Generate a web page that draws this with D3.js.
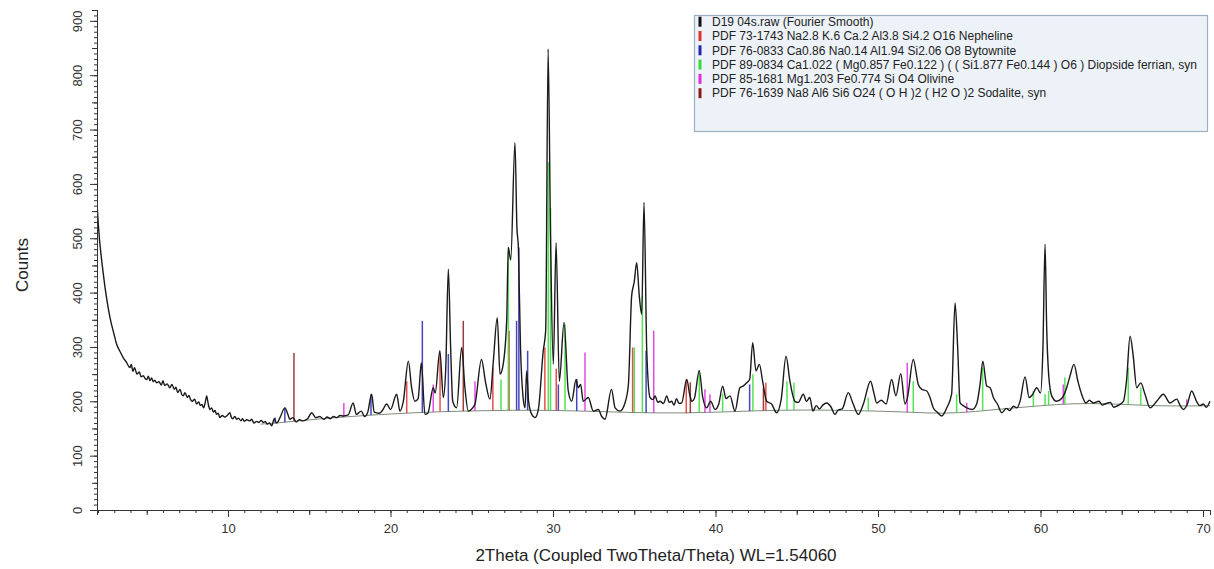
<!DOCTYPE html>
<html>
<head>
<meta charset="utf-8">
<script src="https://cdn.jsdelivr.net/npm/d3@7"></script>
<style>
  body { margin: 0; background: #fff; }
  svg { font-family: Arial, "Liberation Sans", sans-serif; }
</style>
</head>
<body>
<svg id="xrd"></svg>
<script>
// measured scan, [2theta, counts]
const scan = [
  [1.95,560],[2.02,526],[2.33,434],[2.74,354],[3.0,322],[3.15,305],[3.35,292],[3.56,280],[3.75,272],[3.97,262],
  [4.05,268],[4.15,255],[4.25,262],[4.4,250],[4.55,254],[4.65,245],[4.79,247],[4.9,242],[5.0,240],[5.1,246],
  [5.2,238],[5.3,243],[5.4,236],[5.5,239],[5.61,234],[5.75,236],[5.9,230],[6.0,238],[6.1,229],[6.25,232],
  [6.43,225],[6.55,231],[6.7,222],[6.8,226],[6.9,216],[7.05,222],[7.15,213],[7.25,210],[7.35,216],[7.5,207],
  [7.6,211],[7.7,203],[7.8,200],[7.95,204],[8.07,195],[8.2,199],[8.3,192],[8.4,194],[8.5,188],[8.6,198],
  [8.69,210],[8.78,196],[8.89,185],[9.0,188],[9.1,180],[9.2,183],[9.3,176],[9.4,178],[9.5,170],[9.65,174],
  [9.8,171],[9.95,174],[10.12,179],[10.2,171],[10.3,168],[10.42,172],[10.54,167],[10.65,169],[10.8,164],[10.9,168],
  [11.0,163],[11.15,166],[11.35,164],[11.45,167],[11.6,160],[11.75,163],[11.9,161],[12.05,165],[12.17,161],[12.3,163],
  [12.4,158],[12.55,160],[12.69,155],[12.85,168],[13.0,160],[13.2,170],[13.5,188],[13.7,175],[13.8,167],[14.0,170],
  [14.2,162],[14.4,166],[14.6,164],[14.9,168],[15.15,179],[15.4,170],[15.65,172],[15.9,167],[16.1,171],[16.3,168],
  [16.5,172],[16.7,170],[16.9,174],[17.1,173],[17.4,175],[17.7,197],[17.9,176],[18.2,182],[18.4,172],[18.6,180],
  [18.84,213],[19.0,180],[19.3,178],[19.5,183],[19.77,195],[20.0,185],[20.38,213],[20.58,182],[20.79,200],[21.1,274],
  [21.3,225],[21.5,200],[21.7,205],[21.9,271],[22.12,176],[22.3,178],[22.63,225],[22.75,215],[23.04,293],[23.25,207],
  [23.4,260],[23.56,443],[23.7,300],[23.83,200],[24.07,188],[24.38,299],[24.58,225],[24.79,182],[25.0,186],[25.2,195],
  [25.6,277],[25.85,235],[26.12,204],[26.33,274],[26.57,354],[26.74,250],[26.9,262],[27.15,348],[27.25,483],[27.4,460],
  [27.66,676],[27.78,520],[27.87,483],[28.0,300],[28.15,210],[28.28,188],[28.38,256],[28.5,200],[28.69,176],[28.9,170],
  [29.1,185],[29.4,293],[29.55,330],[29.7,848],[29.85,500],[30.02,268],[30.19,492],[30.39,237],[30.68,345],[30.94,219],
  [31.15,200],[31.42,240],[31.55,225],[31.7,231],[31.86,200],[32.17,207],[32.48,182],[32.79,185],[33.0,172],[33.2,167],
  [33.6,222],[33.82,188],[34.12,182],[34.43,197],[34.64,231],[34.84,394],[35.0,420],[35.15,455],[35.31,394],[35.46,360],
  [35.6,566],[35.77,293],[35.97,207],[36.15,203],[36.28,210],[36.45,198],[36.58,200],[36.8,196],[37.0,210],[37.15,198],
  [37.3,200],[37.45,193],[37.6,205],[37.75,196],[37.92,197],[38.23,240],[38.43,210],[38.55,200],[38.7,205],[39.0,257],
  [39.2,210],[39.46,188],[39.7,200],[39.97,185],[40.2,195],[40.44,228],[40.65,205],[40.89,210],[41.2,182],[41.5,225],
  [41.7,228],[41.92,234],[42.1,240],[42.29,308],[42.49,256],[42.7,268],[42.9,237],[43.15,200],[43.45,195],[43.76,179],
  [44.05,205],[44.34,283],[44.58,237],[44.89,200],[45.1,198],[45.4,213],[45.6,200],[45.8,207],[46.0,182],[46.2,192],
  [46.4,186],[46.6,193],[46.84,197],[47.1,190],[47.35,176],[47.55,184],[47.8,186],[48.17,216],[48.45,197],[48.79,176],
  [49.1,195],[49.54,237],[49.75,215],[49.92,197],[50.2,202],[50.5,195],[50.84,240],[51.1,210],[51.4,251],[51.66,195],
  [51.8,205],[52.17,277],[52.48,231],[52.7,222],[53.0,219],[53.2,207],[53.4,188],[53.65,180],[53.92,173],[54.23,188],
  [54.53,213],[54.74,381],[54.9,300],[55.05,197],[55.25,192],[55.47,188],[55.8,185],[56.07,195],[56.28,231],[56.45,274],
  [56.69,228],[56.9,225],[57.1,207],[57.35,195],[57.61,179],[57.9,187],[58.1,183],[58.33,191],[58.55,188],[58.74,200],
  [59.05,245],[59.3,207],[59.5,212],[59.77,225],[60.0,215],[60.15,300],[60.28,489],[60.38,336],[60.5,250],[60.69,210],
  [61.0,200],[61.3,205],[61.61,225],[61.8,245],[62.06,268],[62.3,237],[62.53,213],[62.8,197],[63.0,202],[63.25,197],
  [63.6,200],[63.8,193],[63.97,195],[64.3,198],[64.5,189],[64.69,191],[65.1,200],[65.3,240],[65.51,320],[65.7,285],
  [65.92,225],[66.17,234],[66.43,213],[66.74,188],[67.15,200],[67.56,213],[67.97,197],[68.38,204],[68.6,192],[68.79,185],
  [69.05,196],[69.3,219],[69.6,200],[69.8,192],[70.02,195],[70.2,189],[70.43,200]
];

// fitted background
const background = [
  [12.0,158],[13,160],[15,166],[17,171],[20,177],[23,181],[26,183],[29,184],[32,182],[35,179],[38,178],[41,181],
  [44,184],[47,184],[50,182],[52,180],[54,177],[56,181],[58,187],[60,192],[62,196],[64,196],[66,193],[68,191],[70.43,192]
];

// reference patterns (stick positions, top in counts)
const nepheline = [[21.0,237],[23.05,287],[26.3,262],[27.3,330],[29.5,299],[30.2,260],[34.9,299],[38.2,240],[43.1,234]];
const bytownite = [[12.9,170],[13.5,188],[18.8,213],[21.96,348],[23.56,287],[27.76,348],[27.9,483],[28.44,293],[30.33,231],[31.46,241],[35.73,293],[42.1,231]];
const diopside = [[26.8,240],[27.25,483],[29.71,640],[29.85,556],[30.74,342],[35.0,299],[35.5,395],[39.0,256],[40.44,214],[42.3,250],[44.4,237],[44.83,234],[49.4,207],[52.17,237],[54.84,213],[56.44,262],[59.56,219],[60.28,213],[60.5,219],[61.5,244],[65.4,262],[66.17,225]];
const olivine = [[17.13,197],[22.63,231],[25.2,237],[31.97,290],[36.2,330],[39.35,222],[39.66,213],[51.8,271],[55.46,197],[61.4,231],[69.0,204]];
const sodalite = [[14.06,289],[24.48,348],[38.45,235],[42.95,225]];

const legendLabels = [
  "D19 04s.raw (Fourier Smooth)",
  "PDF 73-1743 Na2.8 K.6 Ca.2 Al3.8 Si4.2 O16 Nepheline",
  "PDF 76-0833 Ca0.86 Na0.14 Al1.94 Si2.06 O8 Bytownite",
  "PDF 89-0834 Ca1.022 ( Mg0.857 Fe0.122 ) ( ( Si1.877 Fe0.144 ) O6 ) Diopside ferrian, syn",
  "PDF 85-1681 Mg1.203 Fe0.774 Si O4 Olivine",
  "PDF 76-1639 Na8 Al6 Si6 O24 ( O H )2 ( H2 O )2 Sodalite, syn"
];
const legendColors = ["#111", "#e3302c", "#2424b4", "#38dc38", "#dd2ddd", "#8a1a1a"];

const xTicks = [10, 20, 30, 40, 50, 60, 70];
const yTicks = [0, 100, 200, 300, 400, 500, 600, 700, 800, 900];

function makeChart() {
  let w = 1214;
  let h = 569;

  let svg = d3.select('#xrd')
    .attr('width', w)
    .attr('height', h);

  let xScale = d3.scaleLinear()
    .domain([1.94, 70.43])
    .range([97, 1210]);

  let yScale = d3.scaleLinear()
    .domain([0, 920])
    .range([510, 10]);

  // clip so nothing goes past the axes
  svg.append('clipPath').attr('id', 'plotclip')
    .append('rect')
    .attr('x', 97).attr('y', 0)
    .attr('width', 1214 - 97).attr('height', 510);

  let plot = svg.append('g').attr('clip-path', 'url(#plotclip)');

  // background line
  let line = d3.line()
    .x(d => xScale(d[0]))
    .y(d => yScale(d[1]));

  plot.append('path')
    .datum(background)
    .attr('d', line.curve(d3.curveBasis))
    .attr('fill', 'none')
    .attr('stroke', '#7c8c7c')
    .attr('stroke-width', 1);

  // sticks start at the background
  let bis = d3.bisector(d => d[0]).left;
  function bgAt(t) {
    let i = bis(background, t);
    if (i <= 0) return background[0][1];
    if (i >= background.length) return background[background.length - 1][1];
    let a = background[i - 1], b = background[i];
    return a[1] + (b[1] - a[1]) * (t - a[0]) / (b[0] - a[0]);
  }

  let phases = [nepheline, bytownite, diopside, olivine, sodalite];
  phases.forEach((sticks, k) => {
    plot.append('g')
      .selectAll('line')
      .data(sticks)
      .enter()
      .append('line')
      .attr('x1', d => xScale(d[0]))
      .attr('x2', d => xScale(d[0]))
      .attr('y1', d => yScale(bgAt(d[0])))
      .attr('y2', d => yScale(d[1]))
      .attr('stroke', legendColors[k + 1])
      .attr('stroke-opacity', 0.85)
      .attr('stroke-width', 1.5);
  });

  // measured pattern
  plot.append('path')
    .datum(scan)
    .attr('d', d3.line()
      .x(d => xScale(d[0]))
      .y(d => yScale(d[1]))
      .curve(d3.curveMonotoneX))
    .attr('fill', 'none')
    .attr('stroke', '#1a1a1a')
    .attr('stroke-width', 1.4)
    .attr('stroke-linejoin', 'round');

  //AXES
  let axisColor = '#333';
  let minorX = d3.range(2, 71, 1);
  let midX = d3.range(5, 71, 10);

  svg.append('g').attr('transform', 'translate(0,510)').attr('color', axisColor)
    .call(d3.axisBottom(xScale).tickValues(minorX).tickSize(3).tickFormat(''));
  svg.append('g').attr('transform', 'translate(0,510)').attr('color', axisColor)
    .call(d3.axisBottom(xScale).tickValues(midX).tickSize(5).tickFormat(''));
  let xAx = svg.append('g').attr('transform', 'translate(0,510)').attr('color', axisColor)
    .call(d3.axisBottom(xScale).tickValues(xTicks).tickSize(7).tickSizeOuter(0));
  xAx.selectAll('text')
    .attr('y', 14)
    .style('font-size', '13px')
    .attr('fill', '#333');

  let minorY = d3.range(0, 921, 10);
  let midY = d3.range(50, 921, 100);
  svg.append('g').attr('transform', 'translate(97,0)').attr('color', axisColor)
    .call(d3.axisLeft(yScale).tickValues(minorY).tickSize(3).tickFormat(''));
  svg.append('g').attr('transform', 'translate(97,0)').attr('color', axisColor)
    .call(d3.axisLeft(yScale).tickValues(midY).tickSize(5).tickFormat(''));
  let yAx = svg.append('g').attr('transform', 'translate(97,0)').attr('color', axisColor)
    .call(d3.axisLeft(yScale).tickValues(yTicks).tickSize(7).tickSizeOuter(0));
  yAx.selectAll('text')
    .attr('transform', 'rotate(-90)')
    .attr('x', 0)
    .attr('y', -15)
    .attr('dy', 0)
    .style('text-anchor', 'middle')
    .style('font-size', '13px')
    .attr('fill', '#333');

  //LABELS
  svg.append('text')
    .attr('x', 656)
    .attr('y', 561)
    .style('text-anchor', 'middle')
    .style('font-size', '17px')
    .attr('fill', '#222')
    .text('2Theta (Coupled TwoTheta/Theta) WL=1.54060');

  svg.append('text')
    .attr('transform', 'rotate(-90)')
    .attr('x', -265)
    .attr('y', 28)
    .style('text-anchor', 'middle')
    .style('font-size', '17px')
    .attr('fill', '#222')
    .text('Counts');

  //LEGEND
  let legend = svg.append('g');
  legend.append('rect')
    .attr('x', 694.5).attr('y', 15.5)
    .attr('width', 513).attr('height', 116)
    .attr('fill', '#edf2f8')
    .attr('stroke', '#9fb0c2')
    .attr('stroke-width', 1.2);

  let rows = legend.selectAll('g.row')
    .data(legendLabels)
    .enter()
    .append('g')
    .attr('transform', (d, i) => `translate(0, ${21.7 + i * 14.3})`);

  rows.append('rect')
    .attr('x', 698.5).attr('y', -5)
    .attr('width', 3).attr('height', 10)
    .attr('fill', (d, i) => legendColors[i]);

  rows.append('text')
    .attr('x', 712)
    .attr('y', 4.2)
    .style('font-size', '12px')
    .attr('fill', '#222')
    .text(d => d);
}

makeChart();
</script>
</body>
</html>
